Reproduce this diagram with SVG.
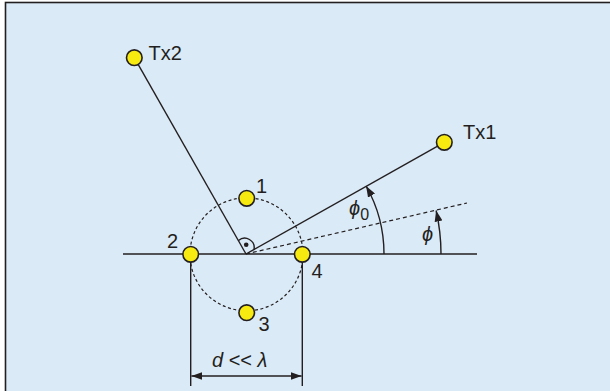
<svg xmlns="http://www.w3.org/2000/svg" width="610" height="391" viewBox="0 0 610 391">
<defs>
<style>
.ln{stroke:#231f20;stroke-width:1.4;fill:none}
.dash{stroke:#231f20;stroke-width:1.2;fill:none;stroke-dasharray:4 3}
.dot{stroke:#231f20;stroke-width:1.2;fill:none;stroke-dasharray:3 2.5}
.node{fill:#f7ea10;stroke:#231f20;stroke-width:1.6}
.t{font-family:"Liberation Sans",Arial,sans-serif;font-size:20px;fill:#231f20}
.it{font-style:italic}
</style>
<marker id="ah" viewBox="0 0 11 8" refX="11" refY="4" markerWidth="11" markerHeight="8" markerUnits="userSpaceOnUse" orient="auto-start-reverse">
<path d="M0,0 L11,4 L0,8 z" fill="#231f20"/>
</marker>
</defs>
<rect x="5.5" y="2.5" width="620" height="400" fill="#dbeaf7" stroke="#231f20" stroke-width="1.6"/>
<g id="connectors">
<line class="ln" x1="123" y1="254" x2="477" y2="254"/>
<line class="ln" x1="246" y1="254" x2="134.3" y2="57.7"/>
<line class="ln" x1="246" y1="254" x2="444.3" y2="142.3"/>
<line class="dash" x1="246" y1="254" x2="467" y2="203"/>
<circle class="dot" cx="246.5" cy="254.3" r="56.5"/>
<path class="ln" d="M238.5 240.5 A9.5 9.5 0 0 1 254 249.5"/>
<circle cx="246.2" cy="244.8" r="2.3" fill="#231f20"/>
<path class="ln" d="M384 254 A138 138 0 0 0 366.1 186" marker-end="url(#ah)"/>
<path class="ln" d="M441 254 A195 195 0 0 0 436.1 210.5" marker-end="url(#ah)"/>
<line class="ln" x1="190.7" y1="254" x2="190.7" y2="386"/>
<line class="ln" x1="302.3" y1="254" x2="302.3" y2="386"/>
<line class="ln" x1="191.4" y1="376" x2="301.6" y2="376" marker-start="url(#ah)" marker-end="url(#ah)"/>
</g>
<g id="tx2"><circle class="node" cx="134.3" cy="57.7" r="7.8"/><text class="t" x="148.5" y="59.5">Tx2</text></g>
<g id="tx1"><circle class="node" cx="444.3" cy="142.3" r="7.8"/><text class="t" x="463" y="139">Tx1</text></g>
<g id="n1"><circle class="node" cx="246.7" cy="198.3" r="7.8"/><text class="t" x="256" y="193">1</text></g>
<g id="n2"><circle class="node" cx="190.7" cy="254.3" r="7.8"/><text class="t" x="167" y="247.5">2</text></g>
<g id="n3"><circle class="node" cx="246.7" cy="312.7" r="7.8"/><text class="t" x="258.5" y="331">3</text></g>
<g id="n4"><circle class="node" cx="302.3" cy="254.3" r="7.8"/><text class="t" x="311.5" y="278">4</text></g>
<g id="labels">
<text class="t" x="349" y="215"><tspan class="it">ϕ</tspan><tspan font-size="16" dy="5">0</tspan></text>
<text class="t it" x="422" y="241">ϕ</text>
<text class="t" x="212" y="367"><tspan class="it">d</tspan> &lt;&lt; <tspan class="it">λ</tspan></text>
</g>
</svg>
